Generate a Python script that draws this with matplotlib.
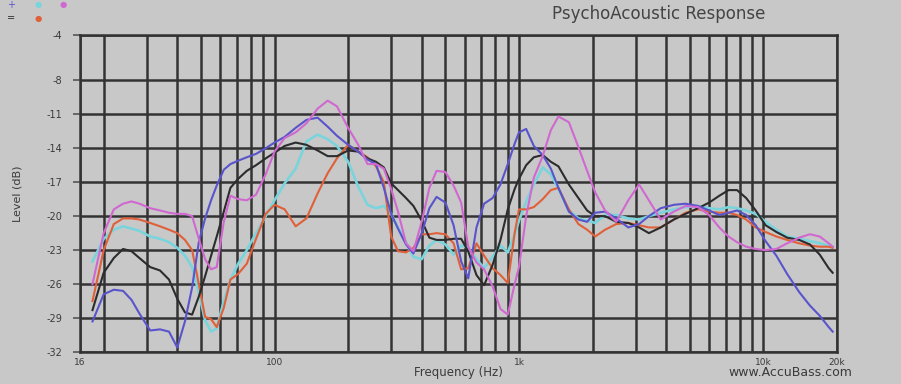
import matplotlib
matplotlib.use("Agg")
import matplotlib.pyplot as plt

# Frequency points (Hz), shared by all five traces
freq_hz = [18, 20, 22, 24, 26, 28, 31, 34, 37, 40,
           43, 46, 49, 52, 55, 58, 62, 66, 71, 77,
           84, 92, 100, 110, 122, 135, 150, 165, 180, 200,
           220, 240, 260, 280, 300, 320, 345, 370, 400, 430,
           460, 500, 540, 580, 620, 670, 720, 780, 840, 900,
           960, 1000, 1070, 1150, 1250, 1350, 1450, 1600, 1750, 1900,
           2050, 2250, 2500, 2800, 3100, 3400, 3800, 4300, 4800, 5400,
           6000, 6600, 7200, 7800, 8500, 9300, 10200, 11300, 12500, 14000,
           15500, 17000, 18500, 19200]

# Levels (dB)
blue_db = [-29.3, -26.9, -26.5, -26.6, -27.4, -28.6, -30.1, -30.0, -30.2, -31.6,
           -29.3, -26.3, -22.3, -20.2, -18.6, -17.3, -15.9, -15.4, -15.1, -14.8,
           -14.5, -14.0, -13.5, -13.0, -12.2, -11.5, -11.3, -12.1, -12.9, -13.7,
           -14.3, -15.0, -15.4, -17.5, -19.8, -21.1, -22.5, -23.3, -21.5, -19.3,
           -18.3, -18.8, -20.8, -24.0, -25.5, -21.0, -18.9, -18.4, -17.2, -15.4,
           -13.6, -12.6, -12.3, -13.8, -14.6, -15.8, -17.5, -19.6, -20.3, -20.5,
           -19.7, -19.6, -20.2, -21.0, -20.7, -20.0, -19.3, -19.0, -18.9, -19.1,
           -19.5, -19.9, -19.7, -19.5, -19.9, -20.8, -22.2, -23.5, -25.1, -26.7,
           -27.9, -28.8, -29.8, -30.2]

cyan_db = [-24.0, -22.0, -21.2, -20.9, -21.1, -21.3, -21.8, -22.0, -22.3, -22.8,
           -23.5, -24.5, -26.8, -29.2, -30.2, -29.9, -27.5, -25.6, -24.2, -23.0,
           -21.5, -20.0, -18.6, -17.1, -15.8, -13.4, -12.8, -13.2, -13.8, -15.2,
           -17.4, -19.0, -19.3, -19.1, -19.8, -21.0, -22.3, -23.6, -23.8, -22.6,
           -22.1, -22.5, -23.4, -22.6, -22.8, -23.8, -24.6, -23.6, -22.6, -23.2,
           -21.6, -20.4, -18.7, -17.2, -15.7, -16.3, -17.6, -19.5, -20.2, -20.4,
           -20.6, -19.9, -19.9, -20.2, -20.3, -20.0, -19.7, -19.4, -19.2, -19.1,
           -19.3, -19.4, -19.2, -19.3, -19.5, -19.8, -20.5, -21.2, -21.8, -22.0,
           -22.2, -22.4, -22.6, -22.7]

magenta_db = [-26.0, -21.5, -19.4, -18.9, -18.7, -18.9, -19.3, -19.5, -19.7, -19.8,
              -19.8, -20.0, -22.0, -23.8, -24.7, -24.5, -20.5, -18.2, -18.5, -18.6,
              -18.1, -16.3, -14.3, -13.1, -12.6, -11.8, -10.5, -9.8, -10.3, -12.2,
              -13.7, -15.4, -15.4, -15.8, -17.6, -19.6, -22.4, -23.1, -20.5, -17.5,
              -16.0, -16.1, -17.3, -18.8, -22.7, -24.1, -24.7, -26.2, -28.2, -28.7,
              -26.0, -24.5, -20.0, -16.6, -14.7, -12.4, -11.2, -11.7, -13.9, -16.0,
              -17.9, -19.5, -20.5, -18.6, -17.2, -18.6, -20.3, -19.6, -19.1, -19.2,
              -19.9, -21.0, -21.8, -22.3, -22.7, -22.9, -23.0, -22.9, -22.4, -21.9,
              -21.6, -21.8, -22.4, -22.7]

black_db = [-28.3, -25.0, -23.7, -22.9, -23.1, -23.7, -24.5, -24.8, -25.6, -27.3,
            -28.5, -28.7, -27.1, -25.3, -23.5, -21.8, -19.6, -17.5, -16.7, -16.0,
            -15.5, -14.9, -14.4, -13.8, -13.5, -13.7, -14.2, -14.7, -14.7, -14.2,
            -14.3, -14.9, -15.2, -15.7, -17.1, -17.7, -18.4, -19.1, -20.4, -21.9,
            -22.1, -22.1, -22.0, -22.0, -23.1, -25.2, -26.1, -24.3, -22.1, -19.4,
            -17.6, -16.7, -15.5, -14.8, -14.6, -15.2, -15.6, -17.2, -18.4, -19.5,
            -20.0, -20.0, -20.5, -20.6, -21.0, -21.5, -21.0, -20.3, -19.8, -19.3,
            -18.8, -18.2, -17.7, -17.7, -18.4, -19.5, -20.8, -21.4, -21.9, -22.1,
            -22.5, -23.4, -24.6, -25.0]

red_db = [-27.5, -23.0, -20.7, -20.2, -20.2, -20.3, -20.6, -20.9, -21.2, -21.5,
          -22.1, -23.0, -26.0, -28.9, -29.1, -29.8, -28.1, -25.6, -25.1, -24.2,
          -22.0, -19.8, -19.0, -19.4, -20.9, -20.2, -18.0, -16.2, -14.9, -13.7,
          -14.3, -14.8, -15.6, -17.0, -21.8, -23.1, -23.2, -22.8, -21.6, -21.6,
          -21.5, -21.6, -22.4, -24.7, -24.6, -22.4, -23.5, -24.6, -25.2, -25.9,
          -21.5, -19.4, -19.4, -19.2, -18.5, -17.7, -17.5, -19.4, -20.7, -21.2,
          -21.8, -21.2, -20.7, -20.6, -20.8, -21.0, -21.0, -20.3, -19.7, -19.4,
          -19.6, -19.7, -19.7, -19.9, -20.3, -21.0, -21.4, -21.8, -22.1, -22.4,
          -22.6, -22.7, -22.7, -22.8]

# axis ticks / grid
y_ticks = [-4, -8, -11, -14, -17, -20, -23, -26, -29, -32]
x_major = [16, 100, 1000, 10000, 20000]
x_major_labels = ["16", "100", "1k", "10k", "20k"]
x_minor = [20, 30, 40, 50, 60, 70, 80, 90,
           200, 300, 400, 500, 600, 700, 800, 900,
           2000, 3000, 4000, 5000, 6000, 7000, 8000, 9000]

bg = "#c8c8c8"
grid_col = "#333333"
text_col = "#3a3a3a"

fig = plt.figure(figsize=(9.01, 3.84), dpi=100, facecolor=bg)
ax = fig.add_axes([80 / 901, 1 - 352 / 384, 757 / 901, 317 / 384])
ax.set_facecolor(bg)

ax.set_xscale("log")
ax.set_xlim(16, 20000)
ax.set_ylim(-32, -4)

ax.set_xticks(x_major)
ax.set_xticklabels(x_major_labels)
ax.set_xticks(x_minor, minor=True)
ax.set_yticks(y_ticks)
ax.set_yticklabels([str(v) for v in y_ticks])

ax.grid(True, which="both", color=grid_col, linewidth=1.8)
ax.set_axisbelow(True)
for s in ax.spines.values():
    s.set_color(grid_col)
    s.set_linewidth(1.8)

ax.tick_params(axis="x", which="both", length=0, pad=4, labelsize=6.5, labelcolor=text_col)
ax.tick_params(axis="y", length=5, width=1.2, color="#555555", pad=8, labelsize=7, labelcolor=text_col)

lw = 1.5
ax.plot(freq_hz, cyan_db, color="#7ad4dc", lw=lw + 0.4)
ax.plot(freq_hz, red_db, color="#e0603a", lw=lw)
ax.plot(freq_hz, black_db, color="#2c2c2c", lw=lw)
ax.plot(freq_hz, blue_db, color="#5a54cc", lw=lw)
ax.plot(freq_hz, magenta_db, color="#d068d0", lw=lw)

ax.set_xlabel("Frequency (Hz)", fontsize=8.5, color=text_col)
ax.xaxis.set_label_coords(0.50, -0.045)
ax.set_ylabel("Level (dB)", fontsize=8, color=text_col, labelpad=17)

fig.text(765 / 901, 1 - 14 / 384, "PsychoAcoustic Response", ha="right", va="center",
         fontsize=12, color="#444444")
fig.text(852 / 901, 1 - 372 / 384, "www.AccuBass.com", ha="right", va="center",
         fontsize=9, color=text_col)

# small legend swatches in the corner
fig.text(11 / 901, 1 - 5 / 384, "+", color="#5a54cc", fontsize=7, ha="center", va="center")
fig.text(38 / 901, 1 - 5 / 384, "\u25cf", color="#7ad4dc", fontsize=6, ha="center", va="center")
fig.text(63 / 901, 1 - 5 / 384, "\u25cf", color="#d068d0", fontsize=6, ha="center", va="center")
fig.text(11 / 901, 1 - 18 / 384, "=", color="#2c2c2c", fontsize=7, ha="center", va="center")
fig.text(38 / 901, 1 - 18 / 384, "\u25cf", color="#e0603a", fontsize=6, ha="center", va="center")

fig.savefig("out.png", dpi=100, facecolor=bg)
